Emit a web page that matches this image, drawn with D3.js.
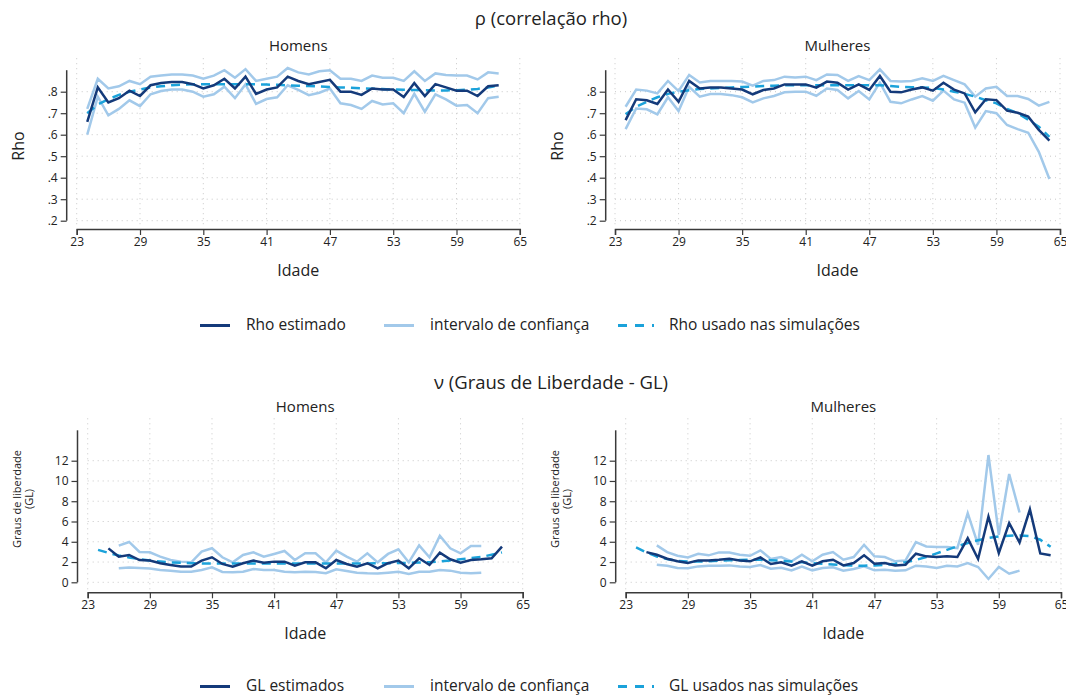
<!DOCTYPE html>
<html>
<head>
<meta charset="utf-8">
<script src="https://cdn.jsdelivr.net/npm/d3@7"></script>
<style>
  html, body { margin: 0; padding: 0; background: #fff; }
  svg { display: block; font-family: "Open Sans", "Noto Sans", sans-serif; }
</style>
</head>
<body>
<svg id="chart" width="1066" height="696"></svg>
<script>
// ---------- DATA ----------
const xTicks = [23, 29, 35, 41, 47, 53, 59, 65];
const rhoTicks = [0.2, 0.3, 0.4, 0.5, 0.6, 0.7, 0.8];
const glTicks = [0, 2, 4, 6, 8, 10, 12];

// Rho - Homens
const rhoAgesH = [24,25,26,27,28,29,30,31,32,33,34,35,36,37,38,39,40,41,42,43,44,45,46,47,48,49,50,51,52,53,54,55,56,57,58,59,60,61,62,63];
const rhoEstH = [0.66,0.82,0.75,0.77,0.805,0.78,0.83,0.84,0.845,0.845,0.835,0.815,0.83,0.86,0.815,0.87,0.79,0.81,0.82,0.87,0.85,0.835,0.845,0.855,0.80,0.80,0.785,0.815,0.81,0.81,0.775,0.84,0.78,0.835,0.82,0.805,0.805,0.78,0.825,0.83];
const rhoUpH = [0.72,0.86,0.815,0.825,0.85,0.835,0.87,0.875,0.88,0.88,0.875,0.86,0.875,0.90,0.865,0.905,0.85,0.86,0.87,0.91,0.89,0.88,0.895,0.90,0.86,0.86,0.85,0.875,0.865,0.865,0.85,0.895,0.85,0.885,0.878,0.875,0.875,0.857,0.89,0.885];
const rhoLoH = [0.60,0.777,0.69,0.72,0.76,0.733,0.788,0.803,0.81,0.81,0.80,0.777,0.788,0.823,0.77,0.834,0.743,0.766,0.774,0.83,0.808,0.784,0.795,0.815,0.746,0.738,0.72,0.757,0.741,0.746,0.70,0.79,0.707,0.788,0.764,0.735,0.738,0.70,0.77,0.777];
const rhoSimH = [0.70,0.74,0.765,0.785,0.80,0.81,0.82,0.825,0.83,0.833,0.835,0.835,0.835,0.835,0.835,0.835,0.835,0.833,0.832,0.83,0.828,0.826,0.824,0.822,0.82,0.818,0.816,0.814,0.812,0.81,0.809,0.808,0.807,0.806,0.806,0.807,0.809,0.813,0.82,0.828];

// Rho - Mulheres
const rhoAgesM = [24,25,26,27,28,29,30,31,32,33,34,35,36,37,38,39,40,41,42,43,44,45,46,47,48,49,50,51,52,53,54,55,56,57,58,59,60,61,62,63,64];
const rhoEstM = [0.668,0.765,0.76,0.743,0.81,0.753,0.85,0.815,0.82,0.82,0.815,0.81,0.788,0.808,0.815,0.834,0.834,0.834,0.819,0.847,0.842,0.81,0.834,0.808,0.873,0.80,0.797,0.81,0.82,0.805,0.842,0.81,0.792,0.704,0.765,0.761,0.712,0.702,0.684,0.622,0.572];
const rhoUpM = [0.73,0.81,0.805,0.792,0.85,0.803,0.878,0.843,0.85,0.85,0.85,0.847,0.828,0.85,0.854,0.87,0.866,0.87,0.854,0.88,0.878,0.85,0.873,0.854,0.904,0.85,0.847,0.85,0.862,0.85,0.874,0.854,0.834,0.777,0.815,0.823,0.78,0.78,0.766,0.735,0.753];
const rhoLoM = [0.626,0.722,0.718,0.695,0.774,0.71,0.823,0.777,0.789,0.789,0.784,0.774,0.75,0.769,0.78,0.797,0.80,0.80,0.781,0.815,0.808,0.769,0.803,0.764,0.842,0.753,0.746,0.764,0.78,0.758,0.805,0.764,0.749,0.633,0.71,0.70,0.645,0.626,0.609,0.52,0.394];
const rhoSimM = [0.695,0.73,0.753,0.774,0.79,0.80,0.807,0.812,0.815,0.818,0.82,0.822,0.824,0.826,0.828,0.83,0.83,0.83,0.83,0.83,0.83,0.83,0.83,0.83,0.83,0.826,0.823,0.821,0.82,0.817,0.81,0.80,0.79,0.777,0.76,0.746,0.72,0.70,0.67,0.637,0.59];

// GL - Homens
const glEstAgesH = [25,26,27,28,29,30,31,32,33,34,35,36,37,38,39,40,41,42,43,44,45,46,47,48,49,50,51,52,53,54,55,56,57,58,59,60,61,62,63];
const glEstH = [3.35,2.53,2.7,2.2,2.14,1.88,1.71,1.55,1.55,2.14,2.47,1.81,1.55,1.88,2.14,1.94,2.04,2.04,1.64,1.97,1.97,1.38,2.2,1.81,1.55,1.88,1.38,1.88,2.14,1.38,2.37,1.71,2.93,2.27,1.94,2.2,2.27,2.37,3.52];
const glCiAgesH = [26,27,28,29,30,31,32,33,34,35,36,37,38,39,40,41,42,43,44,45,46,47,48,49,50,51,52,53,54,55,56,57,58,59,60,61];
const glUpH = [3.62,3.98,3.0,2.96,2.53,2.2,2.04,1.97,3.03,3.36,2.47,1.97,2.7,2.96,2.53,2.8,3.09,2.2,2.86,2.86,1.97,3.13,2.53,2.04,2.86,1.97,2.8,3.26,1.97,3.65,2.47,4.6,3.36,2.86,3.58,3.58];
const glLoH = [1.38,1.45,1.41,1.35,1.22,1.15,1.05,1.05,1.22,1.48,1.02,0.99,1.05,1.32,1.22,1.22,1.05,0.99,1.05,1.02,0.89,1.28,1.12,0.95,0.89,0.86,0.95,1.05,0.82,1.05,1.05,1.22,1.15,0.95,0.89,0.95];
const glSimAgesH = [24,25,26,27,28,29,30,31,32,33,34,35,36,37,38,39,40,41,42,43,44,45,46,47,48,49,50,51,52,53,54,55,56,57,58,59,60,61,62,63];
const glSimH = [3.2,2.9,2.65,2.45,2.28,2.15,2.05,1.97,1.92,1.88,1.86,1.85,1.85,1.85,1.85,1.85,1.85,1.85,1.85,1.85,1.85,1.85,1.85,1.85,1.85,1.85,1.86,1.87,1.88,1.9,1.92,1.95,1.98,2.05,2.15,2.27,2.38,2.5,2.72,2.95];

// GL - Mulheres
const glEstAgesM = [25,26,27,28,29,30,31,32,33,34,35,36,37,38,39,40,41,42,43,44,45,46,47,48,49,50,51,52,53,54,55,56,57,58,59,60,61,62,63,64];
const glEstM = [2.98,2.72,2.33,2.07,1.9,2.16,2.16,2.23,2.33,2.16,2.07,2.46,1.8,1.97,1.64,2.07,1.64,2.07,2.23,1.67,1.9,2.66,1.84,1.9,1.67,1.74,2.82,2.56,2.49,2.56,2.49,4.36,2.3,6.49,2.89,5.84,3.93,7.2,2.85,2.68];
const glCiAgesM = [26,27,28,29,30,31,32,33,34,35,36,37,38,39,40,41,42,43,44,45,46,47,48,49,50,51,52,53,54,55,56,57,58,59,60,61];
const glUpM = [3.64,2.98,2.62,2.46,2.82,2.66,2.95,2.95,2.72,2.62,3.15,2.3,2.49,2.07,2.72,2.07,2.72,2.98,2.23,2.49,3.7,2.56,2.49,2.07,2.16,3.97,3.54,3.48,3.48,3.38,6.82,3.7,12.56,4.69,10.69,6.89];
const glLoM = [1.74,1.64,1.41,1.38,1.57,1.64,1.64,1.67,1.57,1.51,1.7,1.34,1.44,1.18,1.54,1.18,1.41,1.48,1.15,1.31,1.57,1.18,1.25,1.15,1.18,1.64,1.57,1.41,1.64,1.57,1.9,1.51,0.33,1.51,0.85,1.15];
const glSimAgesM = [24,25,26,27,28,29,30,31,32,33,34,35,36,37,38,39,40,41,42,43,44,45,46,47,48,49,50,51,52,53,54,55,56,57,58,59,60,61,62,63,64];
const glSimM = [3.45,2.95,2.55,2.3,2.12,2.05,2.05,2.08,2.12,2.17,2.2,2.22,2.22,2.18,2.12,2.05,1.98,1.9,1.82,1.75,1.69,1.65,1.64,1.66,1.72,1.82,1.98,2.2,2.5,2.85,3.2,3.55,3.88,4.15,4.38,4.52,4.6,4.62,4.55,4.2,3.5];

const titles = ["ρ (correlação rho)", "ν (Graus de Liberdade - GL)"];
const subtitles = ["Homens", "Mulheres"];
const legendRho = ["Rho estimado", "intervalo de confiança", "Rho usado nas simulações"];
const legendGL = ["GL estimados", "intervalo de confiança", "GL usados nas simulações"];

// ---------- STYLE ----------
const C_DARK = "#143a7a";
const C_LIGHT = "#a2c9ea";
const C_DASH = "#1ba2da";
const C_AXIS = "#3a3a3a";
const C_GRID = "#c8c8c8";
const C_TEXT = "#222";

const svg = d3.select("#chart");

function zip(xs, ys) { return xs.map((a, i) => [a, ys[i]]); }

function panel(o) {
  const g = svg.append("g");
  const x = d3.scaleLinear().domain([23, 65]).range([o.x0, o.x1]);
  const y = d3.scaleLinear().domain(o.yDomain).range([o.yBottom, o.yTop]);

  // grid
  g.append("g").selectAll("line").data(o.yTicks).join("line")
    .attr("x1", x(23)).attr("x2", x(65))
    .attr("y1", d => y(d)).attr("y2", d => y(d))
    .attr("stroke", C_GRID).attr("stroke-width", 1).attr("stroke-dasharray", "1,4");
  g.append("g").selectAll("line").data(xTicks).join("line")
    .attr("x1", d => x(d)).attr("x2", d => x(d))
    .attr("y1", o.yTop - 12).attr("y2", o.xAxisY - 3)
    .attr("stroke", C_GRID).attr("stroke-width", 1).attr("stroke-dasharray", "1,4");

  // axes
  const yAxis = d3.axisLeft(y).tickValues(o.yTicks).tickFormat(o.fmt).tickSizeOuter(0).tickSize(6).tickPadding(3);
  const ya = g.append("g").attr("transform", `translate(${o.yAxisX},0)`).call(yAxis);
  ya.select(".domain").attr("d", `M0,${o.yTop}V${o.yBottom}`);
  const xAxis = d3.axisBottom(x).tickValues(xTicks).tickFormat(d3.format("d")).tickSizeOuter(0).tickSize(6).tickPadding(2);
  const xa = g.append("g").attr("transform", `translate(0,${o.xAxisY})`).call(xAxis);
  [ya, xa].forEach(a => {
    a.select(".domain").attr("stroke", C_AXIS).attr("stroke-width", 1.5);
    a.selectAll(".tick line").attr("stroke", C_AXIS).attr("stroke-width", 1.2);
    a.selectAll(".tick text").attr("fill", C_TEXT).style("font-size", "12px").style("font-family", "Open Sans");
  });

  // lines
  const line = d3.line().x(d => x(d[0])).y(d => y(d[1]));
  const draw = (data, color, dash) => g.append("path").datum(data)
    .attr("d", line).attr("fill", "none").attr("stroke", color)
    .attr("stroke-width", 2.5).attr("stroke-linejoin", "miter")
    .attr("stroke-dasharray", dash || null);
  draw(o.lo, C_LIGHT);
  draw(o.up, C_LIGHT);
  draw(o.sim, C_DASH, "9,6");
  draw(o.est, C_DARK);

  // subtitle
  g.append("text").attr("x", (o.x0 + o.x1) / 2).attr("y", o.subY)
    .attr("text-anchor", "middle").attr("dominant-baseline", "middle")
    .style("font-size", "15px").attr("fill", C_TEXT).text(o.sub);
  // x title
  g.append("text").attr("x", (o.x0 + o.x1) / 2).attr("y", o.xTitleY)
    .attr("text-anchor", "middle").attr("dominant-baseline", "middle")
    .style("font-size", "16px").attr("fill", C_TEXT).text("Idade");
  // y title
  const yt = g.append("text").attr("transform", `translate(${o.yTitleX},${o.yTitleY}) rotate(-90)`)
    .attr("text-anchor", "middle").attr("fill", C_TEXT).style("font-size", o.yTitleSize);
  o.yTitle.forEach((t, i) => {
    yt.append("tspan").attr("x", 0).attr("dy", i === 0 ? 0 : "1.05em").text(t);
  });
}

const rhoFmt = d => d3.format(".1f")(d).replace(/^0/, "");
const glFmt = d3.format("d");

// Top panels
const topCommon = { yDomain: [0.2, 0.9], yTop: 70.2, yBottom: 220.7, xAxisY: 229, yTicks: rhoTicks, fmt: rhoFmt,
  subY: 47, xTitleY: 272, yTitle: ["Rho"], yTitleY: 146, yTitleSize: "16px" };
panel(Object.assign({}, topCommon, { x0: 76.7, x1: 519.8, yAxisX: 66.7, sub: subtitles[0], yTitleX: 24,
  est: zip(rhoAgesH, rhoEstH), up: zip(rhoAgesH, rhoUpH), lo: zip(rhoAgesH, rhoLoH), sim: zip(rhoAgesH, rhoSimH) }));
panel(Object.assign({}, topCommon, { x0: 615, x1: 1060, yAxisX: 605.7, sub: subtitles[1], yTitleX: 563,
  est: zip(rhoAgesM, rhoEstM), up: zip(rhoAgesM, rhoUpM), lo: zip(rhoAgesM, rhoLoM), sim: zip(rhoAgesM, rhoSimM) }));

// Bottom panels
const botCommon = { yDomain: [0, 15], yTop: 430.3, yBottom: 582.3, xAxisY: 592.3, yTicks: glTicks, fmt: glFmt,
  subY: 408, xTitleY: 635, yTitle: ["Graus de liberdade", "(GL)"], yTitleY: 499, yTitleSize: "11px" };
panel(Object.assign({}, botCommon, { x0: 87.7, x1: 522.7, yAxisX: 77.5, sub: subtitles[0], yTitleX: 21,
  est: zip(glEstAgesH, glEstH), up: zip(glCiAgesH, glUpH), lo: zip(glCiAgesH, glLoH), sim: zip(glSimAgesH, glSimH) }));
panel(Object.assign({}, botCommon, { x0: 625.7, x1: 1061, yAxisX: 615.7, sub: subtitles[1], yTitleX: 559,
  est: zip(glEstAgesM, glEstM), up: zip(glCiAgesM, glUpM), lo: zip(glCiAgesM, glLoM), sim: zip(glSimAgesM, glSimM) }));

// Titles
[[titles[0], 20], [titles[1], 384]].forEach(([t, yy]) => {
  svg.append("text").attr("x", 551).attr("y", yy).attr("text-anchor", "middle")
    .attr("dominant-baseline", "middle").style("font-size", "18.5px").attr("fill", C_TEXT).text(t);
});

// Legends
function legend(labels, yy) {
  const keys = [[200, 230, C_DARK, null], [384, 414, C_LIGHT, null], [618, 654, C_DASH, "9,8"]];
  const textX = [246, 430, 669];
  keys.forEach((k, i) => {
    svg.append("line").attr("x1", k[0]).attr("x2", k[1]).attr("y1", yy).attr("y2", yy)
      .attr("stroke", k[2]).attr("stroke-width", 3).attr("stroke-dasharray", k[3]);
    svg.append("text").attr("x", textX[i]).attr("y", yy).attr("dominant-baseline", "middle")
      .style("font-size", "15.5px").attr("fill", C_TEXT).text(labels[i]);
  });
}
legend(legendRho, 325.5);
legend(legendGL, 686.5);
</script>
</body>
</html>
